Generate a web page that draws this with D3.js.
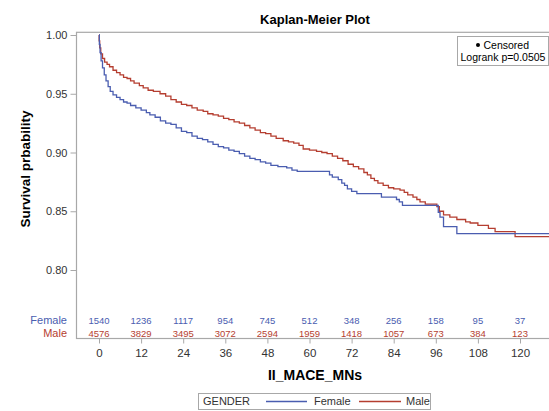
<!DOCTYPE html>
<html><head><meta charset="utf-8">
<script src="https://cdn.jsdelivr.net/npm/d3@7"></script>
<style>body{margin:0;background:#fff}svg{display:block}text{font-family:"Liberation Sans",Arial,sans-serif}</style>
</head><body><svg id="c" width="549" height="411"></svg>
<script>
const xTicks = [0,12,24,36,48,60,72,84,96,108,120];
const yTicks = [0.80,0.85,0.90,0.95,1.00];
const groups = ["Female","Male"];
const femaleAtRisk = [1540,1236,1117,954,745,512,348,256,158,95,37];
const maleAtRisk = [4576,3829,3495,3072,2594,1959,1418,1057,673,384,123];
const femaleTime = [0,0.1,0.3,0.6,1.0,1.5,2.0,2.6,3.2,4.0,5.0,6.0,7.0,8.0,9.0,10.5,12.0,13.5,14.5,16.0,17.5,19.0,20.5,22.0,23.5,25.0,26.5,28.0,29.5,31.0,32.5,34.0,35.5,37.0,38.5,40.0,41.5,43.0,44.5,46.0,47.5,49.0,51.0,53.5,55.0,56.5,65.7,66.5,68.2,69.2,70.0,70.8,72.0,73.5,80.5,84.8,85.6,86.5,96.7,97.2,98.2,102.0,135];
const femaleSurv = [1.000,0.992,0.985,0.978,0.972,0.966,0.961,0.956,0.952,0.949,0.947,0.945,0.943,0.942,0.940,0.938,0.936,0.934,0.932,0.930,0.927,0.925,0.924,0.921,0.918,0.917,0.914,0.912,0.911,0.909,0.907,0.905,0.904,0.902,0.901,0.899,0.897,0.895,0.894,0.892,0.891,0.889,0.888,0.887,0.885,0.884,0.881,0.879,0.877,0.874,0.872,0.869,0.867,0.865,0.862,0.860,0.858,0.855,0.849,0.845,0.837,0.831,0.831];
const maleTime = [0,0.05,0.2,0.5,1.0,1.6,2.3,3.0,4.0,5.0,6.0,7.0,8.0,9.0,10.0,11.5,12.6,14.0,15.5,17.4,19.0,20.5,22.0,23.5,25.0,26.5,28.0,29.7,31.0,32.5,34.0,35.5,37.0,38.5,40.0,41.5,43.0,44.5,46.0,47.5,49.0,50.5,52.5,54.0,55.5,57.0,58.2,60.0,62.0,63.5,65.0,66.5,68.0,69.5,71.0,72.5,74.0,75.5,76.5,77.5,78.5,79.5,81.0,82.5,84.0,85.8,87.0,88.0,89.5,90.6,91.5,93.0,96.3,97.0,98.2,100.0,102.0,104.5,105.8,108.0,111.0,112.9,118.6,135];
const maleSurv = [1.000,0.995,0.989,0.984,0.980,0.977,0.975,0.973,0.970,0.968,0.966,0.964,0.963,0.961,0.959,0.957,0.955,0.953,0.952,0.950,0.948,0.945,0.943,0.941,0.940,0.938,0.936,0.935,0.933,0.932,0.931,0.929,0.928,0.926,0.925,0.923,0.921,0.919,0.917,0.916,0.914,0.912,0.910,0.909,0.908,0.906,0.903,0.902,0.901,0.900,0.899,0.897,0.895,0.893,0.890,0.888,0.886,0.883,0.881,0.878,0.876,0.874,0.872,0.870,0.869,0.868,0.866,0.864,0.862,0.860,0.858,0.856,0.854,0.850,0.847,0.845,0.843,0.841,0.840,0.838,0.8355,0.8326,0.8284,0.8284];

const colors = {Female:"#4a5db0", Male:"#b53e30"};
const svg = d3.select("#c");
const x = d3.scaleLinear().domain([0,120]).range([99,520]);
const y = d3.scaleLinear().domain([0.80,1.00]).range([270,35]);
const L = 76.5, R = 553, T = 32.3, B = 338.5;

// title
svg.append("text").attr("x",315).attr("y",24).attr("text-anchor","middle")
  .attr("font-size",13).attr("font-weight","bold").attr("fill","#000").text("Kaplan-Meier Plot");

// clip
svg.append("clipPath").attr("id","pc").append("rect").attr("x",L).attr("y",T).attr("width",R-L).attr("height",B-T);

// curves
const line = d3.line().x(d=>x(d[0])).y(d=>y(d[1])).curve(d3.curveStepAfter);
const series = [
  {name:"Female", data: femaleTime.map((t,i)=>[t,femaleSurv[i]])},
  {name:"Male", data: maleTime.map((t,i)=>[t,maleSurv[i]])}
];
const g = svg.append("g").attr("clip-path","url(#pc)");
series.slice().reverse().forEach(s=>{
  g.append("path").attr("d",line(s.data)).attr("fill","none")
   .attr("stroke",colors[s.name]).attr("stroke-width",1.3);
});

// frame
svg.append("rect").attr("x",L).attr("y",T).attr("width",R-L).attr("height",B-T)
  .attr("fill","none").attr("stroke","#a8a8a8").attr("stroke-width",1.2);

// y axis
const yAxis = svg.append("g").attr("transform",`translate(${L},0)`)
  .call(d3.axisLeft(y).tickValues(yTicks).tickFormat(d3.format(".2f")).tickSize(6).tickPadding(3));
yAxis.select(".domain").remove();
yAxis.selectAll("line").attr("stroke","#a8a8a8");
yAxis.selectAll("text").attr("font-size",11).attr("fill","#333").attr("font-family","Liberation Sans, Arial");

// x axis
const xAxis = svg.append("g").attr("transform",`translate(0,${B})`)
  .call(d3.axisBottom(x).tickValues(xTicks).tickSize(5).tickPadding(5));
xAxis.select(".domain").remove();
xAxis.selectAll("line").attr("stroke","#a8a8a8");
xAxis.selectAll("text").attr("font-size",11.5).attr("fill","#333").attr("font-family","Liberation Sans, Arial");

// at-risk table
const risk = {Female: femaleAtRisk, Male: maleAtRisk};
const rowY = {Female:324, Male:336.5};
groups.forEach(gn=>{
  svg.append("text").attr("x",67).attr("y",rowY[gn]).attr("text-anchor","end")
    .attr("font-size",11).attr("fill",colors[gn]).text(gn);
  svg.append("g").selectAll("text").data(risk[gn]).join("text")
    .attr("x",(d,i)=>x(xTicks[i])).attr("y",rowY[gn]).attr("text-anchor","middle")
    .attr("font-size",9.5).attr("fill",colors[gn]).text(d=>d);
});

// axis labels
svg.append("text").attr("x",315).attr("y",380).attr("text-anchor","middle")
  .attr("font-size",14).attr("font-weight","bold").text("II_MACE_MNs");
svg.append("text").attr("transform","translate(30,169) rotate(-90)").attr("text-anchor","middle")
  .attr("font-size",13.5).attr("font-weight","bold").text("Survival prbability");

// inset
const ins = svg.append("g");
ins.append("rect").attr("x",457.5).attr("y",36.5).attr("width",91).attr("height",29)
  .attr("fill","#fff").attr("stroke","#a8a8a8").attr("stroke-width",1);
ins.append("circle").attr("cx",478).attr("cy",45).attr("r",2).attr("fill","#000");
ins.append("text").attr("x",483.5).attr("y",48.5).attr("font-size",10.5).attr("fill","#000").text("Censored");
ins.append("text").attr("x",503).attr("y",61).attr("text-anchor","middle").attr("font-size",10.5).attr("fill","#000").text("Logrank p=0.0505");

// bottom legend
const lg = svg.append("g");
lg.append("rect").attr("x",198.5).attr("y",393.5).attr("width",232).attr("height",16)
  .attr("fill","#fff").attr("stroke","#a8a8a8");
lg.append("text").attr("x",203).attr("y",405).attr("font-size",11).attr("fill","#333").text("GENDER");
lg.append("line").attr("x1",266).attr("x2",307).attr("y1",401.5).attr("y2",401.5).attr("stroke",colors.Female).attr("stroke-width",1.3);
lg.append("text").attr("x",314).attr("y",405).attr("font-size",11).attr("fill","#333").text("Female");
lg.append("line").attr("x1",359).attr("x2",401).attr("y1",401.5).attr("y2",401.5).attr("stroke",colors.Male).attr("stroke-width",1.3);
lg.append("text").attr("x",406).attr("y",405).attr("font-size",11).attr("fill","#333").text("Male");
</script></body></html>
